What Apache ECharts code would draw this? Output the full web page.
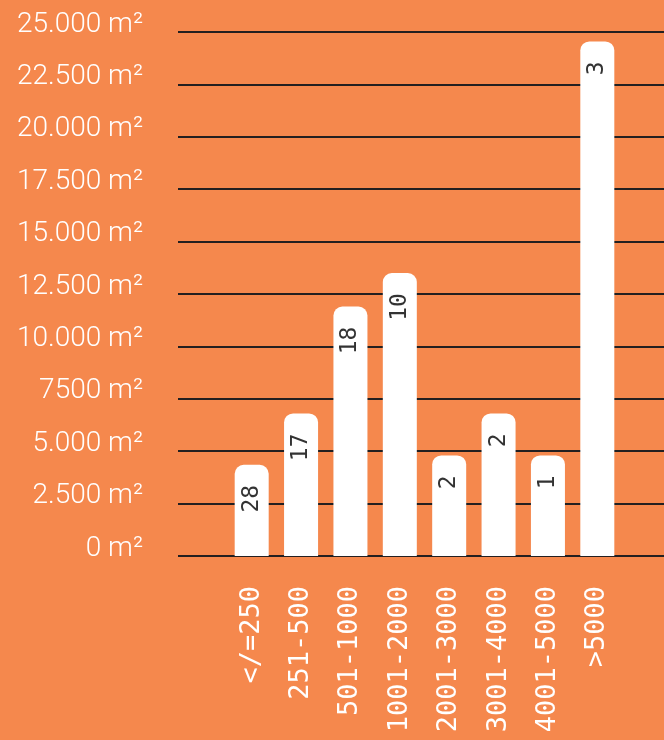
<!DOCTYPE html>
<html>
<head>
<meta charset="utf-8">
<script src="https://cdn.jsdelivr.net/npm/echarts@6/dist/echarts.min.js"></script>
<style>
  html, body { margin: 0; padding: 0; background: #F5884D; }
  #chart { width: 664px; height: 740px; }
</style>
</head>
<body>
<div id="chart"></div>
<script>
// size classes (m2) and total area per class
var categories = ['</=250', '251-500', '501-1000', '1001-2000', '2001-3000', '3001-4000', '4001-5000', '>5000'];
var areaValues = [4350, 6800, 11900, 13500, 4800, 6800, 4800, 24550];
// number of units in each class, printed in the bar
var counts = [28, 17, 18, 10, 2, 2, 1, 3];
var yTickLabels = ['0 m²', '2.500 m²', '5.000 m²', '7500 m²', '10.000 m²', '12.500 m²',
    '15.000 m²', '17.500 m²', '20.000 m²', '22.500 m²', '25.000 m²'];

var myChart = echarts.init(document.getElementById('chart'));

var option = {
    backgroundColor: '#F5884D',
    animation: false,
    grid: [
        { left: 178, right: 0, top: 32, bottom: 184 },
        { left: 227, width: 395, top: 32, bottom: 184 }
    ],
    xAxis: [
        { gridIndex: 0, type: 'category', data: [''], show: false },
        {
            gridIndex: 1,
            type: 'category',
            data: categories,
            axisLine: { show: false },
            axisTick: { show: false },
            axisLabel: {
                rotate: 90,
                margin: 30,
                color: '#ffffff',
                fontFamily: 'DejaVu Sans Mono',
                fontSize: 27,
                fontWeight: 300
            }
        }
    ],
    yAxis: [
        {
            gridIndex: 0,
            type: 'value',
            min: 0,
            max: 25000,
            interval: 2500,
            axisLine: { show: false },
            axisTick: { show: false },
            splitLine: { lineStyle: { color: '#231f20', width: 2 } },
            axisLabel: {
                margin: 35,
                color: '#ffffff',
                fontFamily: 'Roboto',
                fontWeight: 300,
                fontSize: 28,
                verticalAlign: 'bottom',
                lineHeight: 15,
                formatter: function (v) {
                    return yTickLabels[Math.round(v / 2500)];
                }
            }
        },
        { gridIndex: 1, type: 'value', min: 0, max: 25000, interval: 2500, show: false }
    ],
    series: [{
        type: 'bar',
        xAxisIndex: 1,
        yAxisIndex: 1,
        barWidth: 34,
        data: areaValues,
        itemStyle: { color: '#ffffff', borderRadius: [9, 9, 0, 0] },
        label: {
            show: true,
            position: 'insideTop',
            distance: 20,
            rotate: 90,
            align: 'right',
            verticalAlign: 'middle',
            color: '#333333',
            fontFamily: 'DejaVu Sans Mono',
            fontSize: 23,
            formatter: function (p) {
                return counts[p.dataIndex];
            }
        }
    }]
};

myChart.setOption(option);
</script>
</body>
</html>
